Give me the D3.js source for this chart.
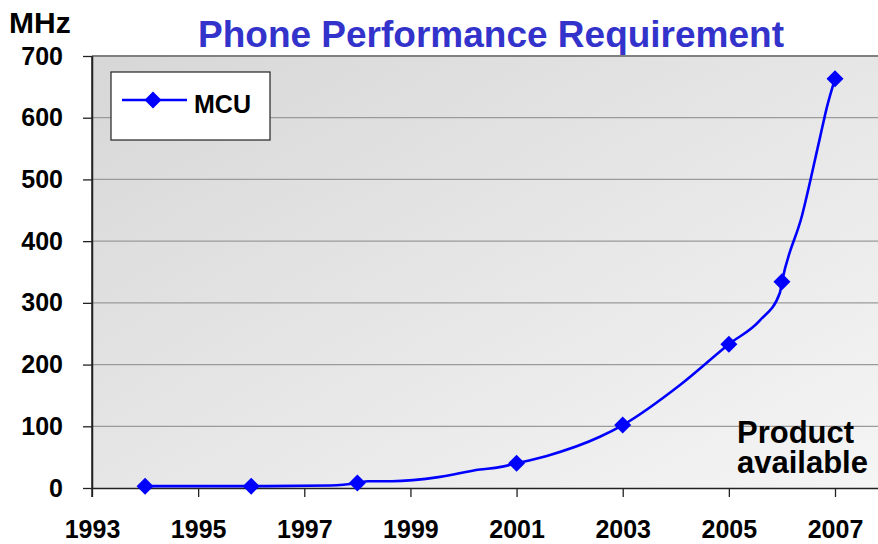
<!DOCTYPE html>
<html>
<head>
<meta charset="utf-8">
<script src="https://cdn.jsdelivr.net/npm/d3@7"></script>
<style>
  body { margin: 0; background: #fff; }
  svg { display: block; font-family: Arial, "Liberation Sans", sans-serif; }
</style>
</head>
<body>
<div id="chart"></div>
<script>
// Marked data points (MHz per year)
const years = [1994, 1996, 1998, 2001, 2003, 2005, 2006, 2007];
const mhz = [3, 3, 8, 40, 102, 233, 334, 663];

// Path of the drawn curve
const curveYears = [1994, 1996, 1997.5, 1998, 1998.2, 1998.65, 1999.56, 2000.31, 2000.63, 2001,
  2001.57, 2002.57, 2003, 2004.08, 2005, 2005.59, 2005.96, 2006, 2006.38, 2006.72, 2006.85, 2007];
const curveMhz = [3, 3, 4, 8, 11, 11, 18, 30, 33, 40,
  52, 83, 102, 167, 233, 272, 316, 334, 442, 569, 618, 663];

const yTicks = [0, 100, 200, 300, 400, 500, 600, 700];
const xTicks = [1993, 1995, 1997, 1999, 2001, 2003, 2005, 2007];

const width = 878, height = 544;
const plotL = 92, plotR = 878, plotT = 56, plotB = 488;

const svg = d3.select("#chart")
  .append("svg")
  .attr("width", width)
  .attr("height", height);

// Scales
const xScale = d3.scaleLinear()
  .domain([1993, 2007 + (plotR - 835) / 53.07])
  .range([plotL, plotR]);

const yScale = d3.scaleLinear()
  .domain([0, 700])
  .range([plotB, plotT]);

// Plot background gradient
const grad = svg.append("defs").append("linearGradient")
  .attr("id", "bg")
  .attr("x1", 0).attr("y1", 0)
  .attr("x2", 1).attr("y2", 1);
grad.append("stop").attr("offset", "0%").attr("stop-color", "#d7d7d7");
grad.append("stop").attr("offset", "100%").attr("stop-color", "#f5f5f5");

svg.append("rect")
  .attr("x", plotL)
  .attr("y", plotT)
  .attr("width", plotR - plotL)
  .attr("height", plotB - plotT)
  .attr("fill", "url(#bg)");

// Gridlines
svg.selectAll(".grid")
  .data(yTicks.filter(d => d > 0 && d < 700))
  .join("line")
    .attr("class", "grid")
    .attr("x1", plotL)
    .attr("x2", plotR)
    .attr("y1", d => yScale(d))
    .attr("y2", d => yScale(d))
    .attr("stroke", "#9a9a9a")
    .attr("stroke-width", 1.3);

// Top border
svg.append("line")
  .attr("x1", plotL).attr("x2", plotR)
  .attr("y1", yScale(700)).attr("y2", yScale(700))
  .attr("stroke", "#808080")
  .attr("stroke-width", 2);

// Axes
const yAxis = svg.append("g")
  .attr("transform", `translate(${plotL},0)`)
  .call(d3.axisLeft(yScale).tickValues(yTicks).tickSize(9).tickSizeOuter(0).tickPadding(20));

const xAxis = svg.append("g")
  .attr("transform", `translate(0,${plotB})`)
  .call(d3.axisBottom(xScale).tickValues(xTicks).tickFormat(d3.format("d"))
    .tickSize(9).tickSizeOuter(0).tickPadding(23));

[yAxis, xAxis].forEach(ax => {
  ax.select(".domain").attr("stroke", "#222").attr("stroke-width", 1.5);
  ax.selectAll(".tick line").attr("stroke", "#222").attr("stroke-width", 1.3);
  ax.selectAll("text")
    .attr("fill", "#000")
    .style("font-size", "25px")
    .style("font-weight", "bold")
    .style("font-family", "Arial, 'Liberation Sans', sans-serif");
});
// extend the left axis down to the tick depth
svg.append("line")
  .attr("x1", plotL).attr("x2", plotL)
  .attr("y1", plotT).attr("y2", plotB + 9)
  .attr("stroke", "#222").attr("stroke-width", 1.5);

// Curve
const curvePts = curveYears.map((y, i) => ({ year: y, value: curveMhz[i] }));
const line = d3.line()
  .x(d => xScale(d.year))
  .y(d => yScale(d.value))
  .curve(d3.curveMonotoneX);

svg.append("path")
  .datum(curvePts)
  .attr("d", line)
  .attr("fill", "none")
  .attr("stroke", "#0000ff")
  .attr("stroke-width", 2.6);

// Diamond markers
const diamond = "M0,-8.5L8.5,0L0,8.5L-8.5,0Z";
const pts = years.map((y, i) => ({ year: y, value: mhz[i] }));
svg.selectAll(".marker")
  .data(pts)
  .join("path")
    .attr("class", "marker")
    .attr("d", diamond)
    .attr("transform", d => `translate(${xScale(d.year)},${yScale(d.value)})`)
    .attr("fill", "#0000ff");

// Title and unit label
svg.append("text")
  .attr("x", 491)
  .attr("y", 47)
  .attr("text-anchor", "middle")
  .attr("fill", "#3333cc")
  .style("font-size", "37px")
  .style("font-weight", "bold")
  .text("Phone Performance Requirement");

svg.append("text")
  .attr("x", 9)
  .attr("y", 33)
  .attr("fill", "#000")
  .style("font-size", "30px")
  .style("font-weight", "bold")
  .text("MHz");

// Legend
const legend = svg.append("g");
legend.append("rect")
  .attr("x", 111).attr("y", 72)
  .attr("width", 159).attr("height", 68)
  .attr("fill", "#fff")
  .attr("stroke", "#222")
  .attr("stroke-width", 1.2);
legend.append("line")
  .attr("x1", 122).attr("x2", 187)
  .attr("y1", 100).attr("y2", 100)
  .attr("stroke", "#0000ff")
  .attr("stroke-width", 2.6);
legend.append("path")
  .attr("d", diamond)
  .attr("transform", "translate(153,100)")
  .attr("fill", "#0000ff");
legend.append("text")
  .attr("x", 194).attr("y", 113)
  .attr("fill", "#000")
  .style("font-size", "25px")
  .style("font-weight", "bold")
  .text("MCU");

// Annotation
const note = svg.append("text")
  .attr("fill", "#000")
  .style("font-size", "31px")
  .style("font-weight", "bold");
note.append("tspan").attr("x", 737).attr("y", 443).text("Product");
note.append("tspan").attr("x", 737).attr("y", 473).text("available");
</script>
</body>
</html>
